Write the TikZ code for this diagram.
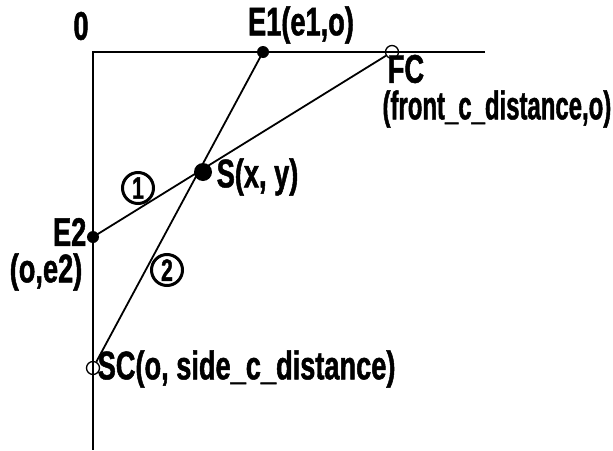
\documentclass[tikz,border=0pt]{standalone}
\usepackage{fontspec}
\usepackage{graphicx}
\setmainfont{Liberation Sans}[FakeStretch=0.68, BoldFeatures={FakeBold=1.2}]
\begin{document}
\begin{tikzpicture}[
    x=1pt, y=-1pt,
    font=\fontsize{40}{42}\selectfont\bfseries,
    every node/.style={inner sep=0.5pt},
    punkt/.style={circle, fill=black, inner sep=0pt, minimum size=12pt},
    ring/.style={circle, draw, line width=1.3pt, inner sep=0pt, minimum size=13pt},
    achse/.style={line width=2.5pt},
    strahl/.style={line width=1.8pt},
    nummer/.style={circle, draw, line width=3pt, inner sep=0pt, minimum size=31pt,
      font=\fontsize{31}{33}\selectfont\bfseries}
  ]
  \useasboundingbox (0,0) rectangle (613,450);

  % Achsen
  \coordinate (o) at (93,52);
  \coordinate (xend) at (485,52);
  \coordinate (yend) at (93,450);
  \draw[achse] (xend) -- (o) -- (yend);
  \node (null) at (81,26) {0};

  % Punkte
  \node[punkt] (e1) at (263,52) {};
  \node[ring] (fc) at (392,52) {};
  \node[punkt, minimum size=18pt] (s) at (203,172) {};
  \node[punkt] (e2) at (93,237) {};
  \node[ring] (sc) at (93,368) {};

  % Geraden
  \draw[strahl] (e2.center) -- (fc);
  \draw[strahl] (e1.center) -- (sc);

  % Beschriftung
  \node (e1txt) at (301,25) {E1(e1,o)};
  \node (fctxt) at (406,69) {FC};
  \node[anchor=east] (fckoord) at (612,109) {\scalebox{0.88}[1]{(front\_c\_distance,o)}};
  \node[anchor=west] (stxt) at (216,177) {S(x, y)};
  \node[anchor=east] (e2txt) at (87,232) {E2};
  \node (e2koord) at (46,272) {(o,e2)};
  \node[anchor=west] (sctxt) at (97,369) {SC(o, side\_c\_distance)};
  \node[nummer] (n1) at (138,188) {1};
  \node[nummer] (n2) at (167,270) {2};
\end{tikzpicture}
\end{document}
